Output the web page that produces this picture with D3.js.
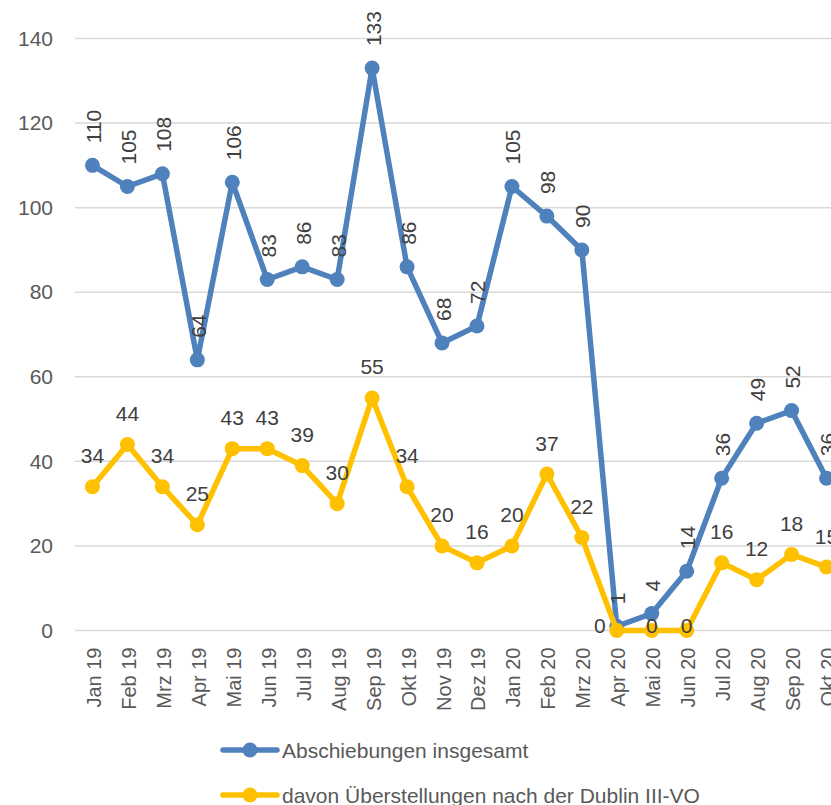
<!DOCTYPE html>
<html>
<head>
<meta charset="utf-8">
<script src="https://cdn.jsdelivr.net/npm/d3@7"></script>
<style>
  body { margin: 0; background: #fff; }
  svg { display: block; font-family: 'Liberation Sans', Arial, sans-serif; }
</style>
</head>
<body>
<div id="chart"></div>
<script>
// Data.
var months = ['Jan 19', 'Feb 19', 'Mrz 19', 'Apr 19', 'Mai 19', 'Jun 19', 'Jul 19', 'Aug 19',
  'Sep 19', 'Okt 19', 'Nov 19', 'Dez 19', 'Jan 20', 'Feb 20', 'Mrz 20', 'Apr 20', 'Mai 20',
  'Jun 20', 'Jul 20', 'Aug 20', 'Sep 20', 'Okt 20'];
var abschiebungen = [110, 105, 108, 64, 106, 83, 86, 83, 133, 86, 68, 72, 105, 98, 90, 1, 4, 14, 36, 49, 52, 36];
var dublin = [34, 44, 34, 25, 43, 43, 39, 30, 55, 34, 20, 16, 20, 37, 22, 0, 0, 0, 16, 12, 18, 15];
var yTicks = [0, 20, 40, 60, 80, 100, 120, 140];
var seriesNames = ['Abschiebungen insgesamt', 'davon Überstellungen nach der Dublin III-VO'];

var width = 831, height = 805;
var blue = '#4f81bd', yellow = '#ffc000';

var svg = d3.select('#chart').append('svg')
  .attr('width', width)
  .attr('height', height);

// The plot area runs past the right edge, as in the original screenshot.
var x = d3.scalePoint().domain(months).range([75, 844]).padding(0.5);
var y = d3.scaleLinear().domain([0, 140]).range([630.5, 38.5]);

// Grid.
svg.append('g').attr('class', 'grid')
  .selectAll('line').data(yTicks).enter().append('line')
  .attr('x1', 75).attr('x2', width)
  .attr('y1', function(d) { return y(d); })
  .attr('y2', function(d) { return y(d); })
  .attr('stroke', '#d9d9d9')
  .attr('stroke-width', 1.5);

// Y axis labels.
var yAxis = d3.axisLeft(y).tickValues(yTicks).tickSize(0).tickPadding(0);
svg.append('g')
  .attr('transform', 'translate(53,0)')
  .call(yAxis)
  .call(function(g) { g.select('.domain').remove(); })
  .selectAll('text')
  .attr('font-size', 21)
  .attr('font-family', "'Liberation Sans', Arial, sans-serif")
  .attr('fill', '#595959');

// X axis labels, rotated.
var xAxis = d3.axisBottom(x).tickSize(0).tickPadding(0);
svg.append('g')
  .attr('transform', 'translate(0,' + y(0) + ')')
  .call(xAxis)
  .call(function(g) { g.select('.domain').remove(); })
  .selectAll('text')
  .attr('font-size', 20)
  .attr('font-family', "'Liberation Sans', Arial, sans-serif")
  .attr('fill', '#595959')
  .attr('text-anchor', 'end')
  .attr('dy', null)
  .attr('dominant-baseline', 'central')
  .attr('transform', 'translate(1,17) rotate(-90)');

var line = d3.line()
  .x(function(d, i) { return x(months[i]); })
  .y(function(d) { return y(d); });

function drawSeries(values, color) {
  var g = svg.append('g');
  g.append('path')
    .datum(values)
    .attr('d', line)
    .attr('fill', 'none')
    .attr('stroke', color)
    .attr('stroke-width', 5.5)
    .attr('stroke-linejoin', 'round');
  g.selectAll('circle').data(values).enter().append('circle')
    .attr('cx', function(d, i) { return x(months[i]); })
    .attr('cy', function(d) { return y(d); })
    .attr('r', 7.5)
    .attr('fill', color);
}

drawSeries(abschiebungen, blue);
drawSeries(dublin, yellow);

// Data labels for the total: rotated, above the point.
svg.append('g').selectAll('text').data(abschiebungen).enter().append('text')
  .attr('transform', function(d, i) {
    return 'translate(' + (x(months[i]) + 1) + ',' + (y(d) - 22) + ') rotate(-90)';
  })
  .attr('text-anchor', 'start')
  .attr('dominant-baseline', 'central')
  .attr('font-size', 21)
  .attr('fill', '#404040')
  .text(function(d) { return d; });

// Data labels for Dublin transfers: horizontal, above the point.
svg.append('g').selectAll('text').data(dublin).enter().append('text')
  .attr('x', function(d, i) {
    // first zero of a run is nudged left of its marker
    var dx = (d === 0 && i > 0 && dublin[i - 1] > 0) ? -17 : 0;
    return x(months[i]) + dx;
  })
  .attr('y', function(d) { return d === 0 ? y(d) - 5 : y(d) - 31; })
  .attr('text-anchor', 'middle')
  .attr('dominant-baseline', 'central')
  .attr('font-size', 21)
  .attr('fill', '#404040')
  .text(function(d) { return d; });

// Legend.
var legend = svg.append('g');
[blue, yellow].forEach(function(color, i) {
  var ly = 750 + i * 45;
  legend.append('line')
    .attr('x1', 223).attr('x2', 277)
    .attr('y1', ly).attr('y2', ly)
    .attr('stroke', color)
    .attr('stroke-width', 5.5)
    .attr('stroke-linecap', 'round');
  legend.append('circle')
    .attr('cx', 250).attr('cy', ly)
    .attr('r', 7.5)
    .attr('fill', color);
  legend.append('text')
    .attr('x', 282).attr('y', ly)
    .attr('dominant-baseline', 'central')
    .attr('font-size', 21)
    .attr('fill', '#595959')
    .text(seriesNames[i]);
});
</script>
</body>
</html>
